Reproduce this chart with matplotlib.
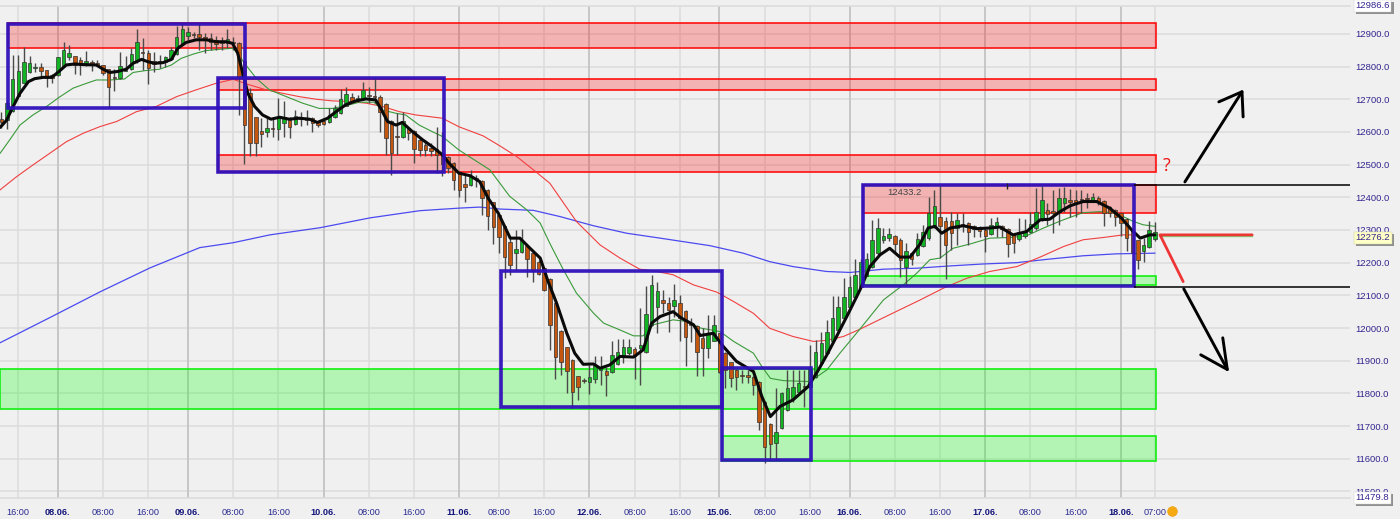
import matplotlib
matplotlib.use("Agg")
import matplotlib.pyplot as plt
from matplotlib.patches import Rectangle
import matplotlib.patheffects as pe

opens = [12640,12637,12665,12711,12751,12782,12795,12798,12790,12775,12775,12803,12829,12833,12820,12812,12815,12812,12805,12792,12767,12766,12787,12792,12817,12844,12841,12817,12816,12815,12822,12839,12869,12894,12900,12899,12889,12887,12882,12879,12871,12876,12873,12817,12718,12645,12603,12599,12611,12610,12627,12635,12625,12643,12640,12642,12630,12632,12629,12645,12659,12680,12706,12699,12703,12712,12709,12708,12685,12632,12587,12584,12611,12603,12576,12560,12550,12547,12535,12522,12504,12476,
12441,12438,12458,12450,12423,12385,12346,12311,12263,12229,12234,12251,12229,12201,12183,12149,12078,11992,11941,11903,11852,11839,11836,11844,11870,11867,11865,11889,11911,11923,11935,11938,11928,12008,12063,12086,12078,12068,12076,12053,12015,12007,11969,11938,11961,11984,11923,11895,11872,11856,11857,11850,11836,11775,11707,11648,11694,11748,11785,11803,11822,11821,11850,11892,11923,11959,11994,12030,12063,12096,
12127,12160,12188,12229,12270,12275,12283,12268,12186,12229,12224,12251,12275,12311,12341,12326,12326,12306,12317,12321,12311,12306,12300,12288,12309,12311,12302,12285,12273,12283,12293,12306,12331,12362,12359,12356,12382,12392,12392,12393,12396,12390,12397,12390,12370,12360,12351,12333,12302,12268,12237,12247,12273]
closes = [12630,12688,12761,12787,12813,12810,12797,12785,12764,12766,12829,12851,12841,12805,12805,12817,12805,12805,12780,12737,12765,12802,12790,12838,12874,12842,12795,12809,12814,12829,12851,12890,12916,12905,12898,12890,12882,12876,12869,12871,12884,12871,12767,12620,12567,12565,12593,12613,12609,12645,12645,12616,12650,12641,12638,12627,12620,12625,12652,12672,12700,12715,12696,12703,12727,12710,12707,12662,12581,12537,12585,12632,12596,12548,12545,12545,12543,12530,12501,12489,12453,12423,
12431,12466,12456,12399,12344,12309,12280,12216,12193,12241,12268,12211,12175,12165,12117,12008,11910,11895,11867,11803,11821,11837,11850,11887,11882,11857,11916,11928,11941,11943,11915,11948,12042,12132,12112,12076,12054,12086,12032,11974,12008,11928,11938,11984,12010,11865,11872,11846,11849,11854,11850,11826,11712,11637,11646,11683,11801,11816,11819,11831,11820,11874,11926,11954,11989,12032,12063,12094,12127,12163,
12201,12211,12270,12306,12282,12287,12258,12209,12236,12211,12272,12295,12353,12372,12311,12254,12290,12331,12315,12295,12302,12298,12282,12316,12323,12302,12258,12260,12293,12298,12319,12356,12392,12349,12351,12397,12399,12387,12387,12391,12394,12402,12387,12351,12351,12341,12321,12275,12229,12207,12254,12300,12293]
highs = [12662,12698,12836,12836,12861,12831,12810,12810,12790,12778,12829,12876,12866,12833,12829,12849,12820,12820,12805,12792,12792,12846,12831,12856,12914,12887,12851,12846,12836,12831,12859,12924,12931,12922,12907,12931,12902,12902,12894,12892,12914,12892,12876,12820,12734,12647,12642,12647,12647,12703,12696,12647,12667,12662,12667,12647,12632,12642,12672,12683,12731,12736,12720,12713,12754,12739,12767,12713,12688,12637,12657,12662,12616,12606,12581,12576,12565,12614,12601,12525,12509,12479,
12469,12484,12469,12453,12425,12387,12348,12313,12275,12300,12302,12254,12234,12209,12188,12152,12081,11994,11943,11905,11854,11846,11887,11915,11913,11882,11959,11966,11966,11966,11943,12061,12129,12163,12142,12115,12096,12135,12101,12056,12030,12010,11999,12040,12040,11986,11928,11897,11874,11872,11872,11854,11839,11778,11709,11816,11803,11872,11872,11872,11872,11949,11964,11989,12025,12098,12098,12152,12158,12211,
12211,12229,12331,12336,12306,12306,12285,12275,12260,12234,12290,12316,12402,12423,12435,12341,12356,12353,12351,12323,12316,12311,12306,12336,12341,12316,12306,12288,12336,12333,12356,12428,12435,12382,12421,12428,12431,12425,12423,12423,12413,12413,12404,12392,12374,12364,12353,12336,12306,12270,12275,12326,12323]
lows = [12611,12608,12662,12711,12749,12780,12782,12764,12736,12749,12771,12800,12820,12778,12775,12802,12785,12802,12775,12676,12724,12761,12785,12788,12812,12790,12747,12782,12795,12800,12820,12836,12866,12882,12887,12851,12841,12851,12851,12851,12856,12851,12652,12502,12525,12525,12555,12586,12584,12576,12586,12581,12622,12618,12622,12601,12616,12622,12627,12642,12655,12678,12693,12693,12698,12688,12688,12601,12530,12469,12530,12581,12576,12506,12527,12525,12525,12474,12466,12474,12423,12402,
12387,12435,12433,12346,12300,12258,12229,12152,12163,12178,12229,12156,12142,12163,12112,11933,11843,11857,11801,11755,11780,11831,11799,11831,11826,11792,11862,11887,11894,11918,11843,11826,11925,12005,11984,12045,11989,12035,11959,11884,11956,11854,11852,11908,11959,11862,11816,11821,11811,11831,11833,11796,11688,11588,11599,11599,11690,11745,11775,11799,11758,11816,11846,11890,11921,11956,11992,12027,12061,12094,
12125,12158,12183,12224,12260,12265,12229,12156,12129,12193,12221,12249,12270,12306,12214,12149,12239,12254,12295,12254,12280,12280,12234,12285,12280,12280,12217,12229,12265,12275,12290,12300,12326,12316,12290,12316,12356,12341,12341,12351,12367,12387,12377,12313,12341,12313,12282,12237,12229,12180,12203,12244,12265]

black_x = [-0.2,0.9,2.1,3.3,4.8,5.9,7.4,8.9,10,11.5,13,14.5,16.8,18,19.2,20.6,22.1,23.3,24.8,25.9,27.1,28.6,30.1,31.2,32.7,34.5,36.2,38,39.8,40.9,41.8,42.7,43.6,44.8,46.2,47.7,49.2,50.9,52.7,54.5,55.9,57.7,59.2,60.9,62.7,64.5,66.2,67.1,68.3,69.8,70.9,72.7,74.5,76.2,78,79.2,80.9,82.9,84.6,86.1,87.9,90,91.7,93.5,95.3,96.7,98.2,100,101.4,102.9,104.7,105.9,107.6,109.4,111.8,113.5,115,116.5,118.8,120.3,122.4,123.6,125.9,127.7,130,133,134.5,136,137.7,140,142.7,144.5,146,147.7,149.8,151.8,153.6,155.4,157.1,158.9,160.7,162.4,163.9,165.1,166.3,167.8,170.1,172.5,174.8,176.6,178.9,181.3,183.7,185.4,187.2,189,191.3,193.7,196,198.1,199.9,201.4,203.1,204]
black_y = [12614,12635,12678,12718,12754,12763,12767,12767,12782,12805,12808,12806,12805,12792,12782,12785,12792,12810,12822,12815,12810,12812,12822,12856,12874,12882,12882,12876,12876,12871,12841,12780,12718,12678,12652,12639,12645,12639,12642,12639,12629,12642,12662,12683,12695,12701,12698,12672,12632,12621,12629,12601,12576,12555,12530,12504,12474,12466,12448,12397,12351,12275,12275,12244,12214,12142,12076,11984,11923,11889,11890,11877,11887,11913,11911,11933,12015,12035,12050,12030,12010,11977,11984,11943,11898,11867,11790,11729,11760,11780,11821,11872,11918,11974,12045,12115,12188,12224,12244,12217,12217,12255,12306,12311,12290,12306,12313,12304,12306,12309,12285,12295,12331,12333,12356,12374,12387,12387,12367,12336,12300,12275,12285,12285]
green_x = [-0.2,1.5,3.3,5.6,8,10.4,12.7,15.1,16.8,19.2,21.8,23.3,25.6,28,30.1,31.8,33.9,36.2,38.6,40.9,41.8,43,45.1,47.4,50.4,53.3,56.2,58.6,60.9,63.3,65.9,67.4,69.8,71.5,73.9,76.2,78,80.9,86.4,89.9,92.9,95.3,97,99.4,101.7,104.7,106.5,109.4,111.8,113.5,115.3,118.8,121.2,123.6,127.1,129.5,133,134.5,136,138.3,143,146,148.3,151.8,156,159.5,161.9,164.2,166,168.3,171.3,174.8,178.4,181.3,184.3,187.8,191.3,194.3,197.2,200.2,201.9,204]
green_y = [12535,12576,12621,12652,12678,12708,12734,12749,12759,12759,12762,12782,12788,12792,12805,12825,12838,12849,12853,12856,12841,12810,12764,12729,12708,12688,12672,12672,12680,12691,12691,12667,12657,12652,12621,12601,12586,12545,12484,12403,12362,12321,12259,12178,12107,12046,12015,11994,11976,11976,12010,12025,12020,12000,11989,11959,11923,11882,11846,11839,11836,11872,11923,11996,12086,12132,12168,12209,12214,12244,12257,12275,12277,12282,12306,12331,12353,12356,12351,12326,12316,12311]
red_x = [-0.2,2.7,5.6,8.6,11.5,14.5,17.4,20.4,23.9,27.4,31,34.5,38,41,43.9,46.8,49.8,52.7,55.7,58.6,61.5,64.5,67.4,70.4,73.3,78,80.9,85.2,88.2,91.2,94.1,97,101.7,105.9,109.4,112.9,115.9,118.8,122.4,126.5,129.5,133,135.9,140,143.6,145.9,148.9,151.8,157,162.5,166.6,170.7,174.8,179.6,183.7,187.8,191.3,194.9,198.4,200.2]
red_y = [12423,12463,12499,12535,12570,12596,12616,12632,12662,12678,12708,12729,12749,12761,12744,12729,12718,12708,12700,12695,12693,12688,12678,12662,12652,12642,12616,12588,12557,12524,12484,12443,12326,12254,12214,12180,12173,12163,12132,12110,12081,12045,11999,11974,11959,11962,11974,11996,12040,12086,12122,12152,12173,12188,12217,12249,12270,12277,12285,12285]
blue_x = [-0.2,8.6,17.5,26.3,35.1,41,47.5,56.4,65.2,74,81.1,84.6,88.2,94.1,98.8,104.7,110.6,116.5,125.3,131.2,135.9,140,145.9,150.1,156,161.9,167.8,173.7,179.6,185.4,191.3,197.2,204]
blue_y = [11955,12032,12111,12184,12246,12261,12285,12307,12337,12359,12367,12370,12364,12360,12341,12313,12290,12275,12252,12229,12203,12188,12173,12170,12180,12183,12190,12196,12200,12211,12221,12227,12229]

y_ticks = [11500,11600,11700,11800,11900,12000,12100,12200,12300,12400,12500,12600,12700,12800,12900]
x_ticks = [3,10,18,26,33,41,49,57,65,73,81,88,96,104,112,120,127,135,143,150,158,166,174,182,190,198,204]
x_labels = ["16:00","08.06.","08:00","16:00","09.06.","08:00","16:00","10.06.","08:00","16:00","11.06.","08:00","16:00","12.06.","08:00","16:00","15.06.","08:00","16:00","16.06.","08:00","16:00","17.06.","08:00","16:00","18.06.","07:00"]

# zones: left bar, right bar, upper price, lower price
red_zones = [(1.2,204.2,12933,12856),(38.3,204.2,12762,12729),(38.3,204.2,12528,12476),(152.4,204.2,12438,12351)]
green_zones = [(-0.3,204.2,11874,11753),(127.4,204.2,11670,11594),(152.4,204.2,12160,12132)]
blue_boxes = [(1.2,43.1,12931,12672),(38.3,78.3,12764,12476),(88.3,127.4,12175,11758),(127.4,143.2,11877,11597),(152.4,200.3,12439,12129)]
levels = [12438,12126]
level_span = (200.3,238.5)
arrow_up = [([209.3,219.4],[12447,12723]),([215.3,219.4,219.6],[12692,12723,12646])]
arrow_down = [([209.1,216.8],[12120,11873]),([212.1,216.8,216],[11918,11873,11970])]
red_path_x = [221.2,204.9,209]
red_path_y = [12285,12285,12142]

BG = "#f0f0f0"
fig = plt.figure(figsize=(14,5.19),dpi=100,facecolor=BG)
ax = fig.add_axes([0,1-498/519,1350/1400,(498-5.6)/519],facecolor=BG)
ax.set_xlim(-0.23,238.5)
ax.set_ylim(11479.8,12986.6)
plt.rcParams['font.family'] = ['Liberation Sans','DejaVu Sans']

for s in ("left","right"):
    ax.spines[s].set_visible(False)
for s in ("top","bottom"):
    ax.spines[s].set_color("#dcdcdc")
    ax.spines[s].set_linewidth(1.2)

ax.hlines(y_ticks,-0.23,238.5,color="#dcdcdc",lw=1.1,zorder=1)
for t,l in zip(x_ticks,x_labels):
    day = "." in l
    ax.axvline(t,color="#c6c6c6" if day else "#dcdcdc",lw=1.4 if day else 1.1,zorder=1)

ax.yaxis.tick_right()
ax.set_yticks(y_ticks)
ax.set_yticklabels([f"{v:.1f}" for v in y_ticks],fontsize=6.8,color="#33258f",family="Liberation Sans")
ax.tick_params(axis="y",length=0,pad=3.5)
ax.set_xticks(x_ticks)
ax.set_xticklabels(x_labels,fontsize=6.6,color="#2a2a90",family="Liberation Sans")
for lab,l in zip(ax.get_xticklabels(),x_labels):
    if "." in l:
        lab.set_fontweight("bold")
        lab.set_color("#14147a")
ax.tick_params(axis="x",length=0,pad=7)

def zone(z,edge,fill,lw):
    ax.add_patch(Rectangle((z[0],z[3]),z[1]-z[0],z[2]-z[3],facecolor=fill,edgecolor="none",zorder=2))
    ax.add_patch(Rectangle((z[0],z[3]),z[1]-z[0],z[2]-z[3],facecolor="none",edgecolor=edge,lw=lw,zorder=3))
for z in red_zones:
    zone(z,"#ff1010",(1,0,0,0.25),1.2)
for z in green_zones:
    zone(z,"#10f010",(0,1,0,0.25),1.2)

ax.plot(blue_x,blue_y,color="#4a4af0",lw=0.9,zorder=4)
ax.plot(red_x,red_y,color="#f04040",lw=0.8,zorder=4)
ax.plot(green_x,green_y,color="#3a9a3a",lw=0.8,zorder=4)

idx = list(range(len(opens)))
ax.vlines(idx,lows,highs,color="#4a4a4a",lw=1.0,zorder=5)
cols = ["#12b424" if c>=o else "#c4570f" for o,c in zip(opens,closes)]
ax.bar(idx,[max(abs(c-o),3) for o,c in zip(opens,closes)],bottom=[min(o,c) for o,c in zip(opens,closes)],
       width=0.62,color=cols,edgecolor="#333333",linewidth=0.5,zorder=6)

ax.plot(black_x,black_y,color="#0a0a0a",lw=2.2,zorder=7,solid_capstyle="round",solid_joinstyle="round")

for b in blue_boxes:
    ax.add_patch(Rectangle((b[0],b[3]),b[1]-b[0],b[2]-b[3],facecolor="none",edgecolor="#3010bc",lw=2.6,alpha=0.95,zorder=8,joinstyle="miter"))

ax.hlines(levels,*level_span,color="black",lw=1.1,zorder=8)
ax.vlines([177.9],12426,12444,color="#222222",lw=1,zorder=8)
for xs,ys in arrow_up+arrow_down:
    ax.plot(xs,ys,color="black",lw=2.1,zorder=9,solid_capstyle="round")
ax.plot(red_path_x[:2],[v-3 for v in red_path_y[:2]],color="#7fd87f",lw=1,zorder=8)
ax.plot(red_path_x,red_path_y,color="#ee2222",lw=2.0,zorder=9,solid_capstyle="round",alpha=0.9)

ax.text(206,12497,"?",color="#ee1111",fontsize=13,ha="center",va="center",family="Open Sans",zorder=9)
ax.text(159.8,12414,"12433.2",color="#444444",fontsize=6.8,ha="center",va="center",family="Liberation Sans",zorder=9)

def pricebox(v,face,edge):
    t = ax.text(1.0042,v,f"{v:.1f}",transform=ax.get_yaxis_transform(),fontsize=6.8,color="#33258f",
                ha="left",va="center",family="Liberation Sans",zorder=12,clip_on=False,
                bbox=dict(boxstyle="square,pad=0.15",fc=face,ec=edge,lw=0.3))
    t.get_bbox_patch().set_path_effects([pe.withSimplePatchShadow(offset=(1.5,-1.5),shadow_rgbFace="#777777",alpha=0.8)])
pricebox(12986.6,"white","#cccccc")
pricebox(11479.8,"white","#cccccc")
pricebox(12276.2,"#ffffc8","#cccc99")

ax.plot([207],[11441],marker="o",ms=7,mfc="#f7a912",mec="#e89a00",mew=0.4,clip_on=False,zorder=12)
fig.savefig("out.png",dpi=100,facecolor=BG)
